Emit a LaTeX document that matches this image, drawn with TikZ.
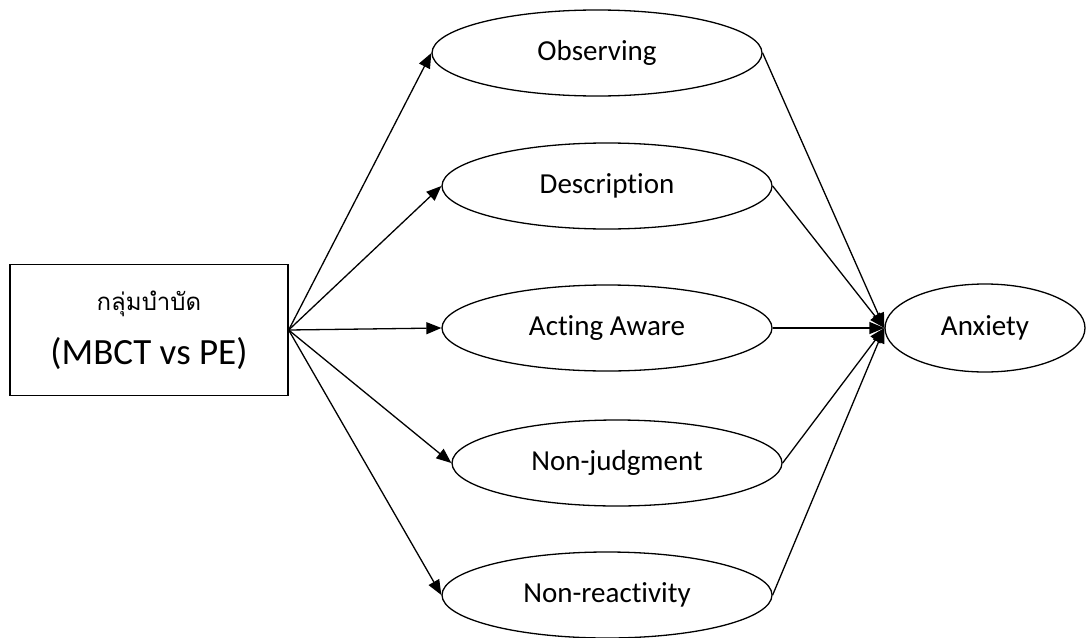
\documentclass[tikz,border=0pt]{standalone}
\usepackage{fontspec}
\setmainfont{Carlito}[Ligatures={NoCommon}]
\newfontfamily\thaifont[Script=Thai]{Loma}
\usepackage{tikz}
\usetikzlibrary{positioning,shapes.geometric,arrows.meta}
\tikzstyle{diagram} = [x = 1pt, y = -1pt, line width = 1.3pt]
\tikzstyle{factorStyle} = [draw, ellipse, inner sep = 0pt, minimum width = 330pt, minimum height = 86pt, font=\fontsize{29}{34}\selectfont]
\tikzstyle{groupStyle} = [draw, rectangle, inner sep = 0pt, minimum width = 278pt, minimum height = 131pt, align = center]
\tikzstyle{pathArrow} = [-{Triangle[length=15pt, width=12pt]}]
\newcommand{\factor}[4]{\node [factorStyle] (#1) at (#2, #3) {#4};}

\begin{document}
\begin{tikzpicture}[diagram]
  \useasboundingbox (0,0) rectangle (1086,637);
  \node [groupStyle] (group) at (149,330) {{\thaifont\fontsize{24}{28}\selectfont กลุ่มบำบัด}\\[20pt]{\fontsize{37}{42}\selectfont (MBCT vs PE)}};
  \factor{observing}{597}{53}{Observing}
  \factor{description}{607}{186}{Description}
  \factor{acting}{607}{328}{Acting Aware}
  \factor{judgment}{617}{463}{Non-judgment}
  \factor{reactivity}{607}{595}{Non-reactivity}
  \node [factorStyle, minimum width = 200pt, minimum height = 88pt] (anxiety) at (985,328) {Anxiety};
  \foreach \target in {observing, description, acting, judgment, reactivity} {
    \draw [pathArrow] (group.east) -- (\target.west);
    \draw [pathArrow] (\target.east) -- (anxiety.west);
  }
\end{tikzpicture}
\end{document}
